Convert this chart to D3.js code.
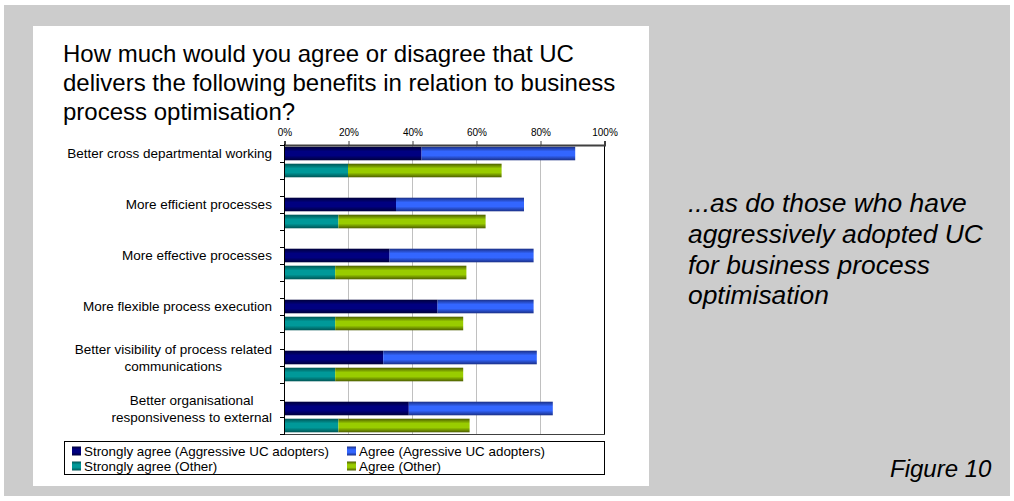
<!DOCTYPE html>
<html>
<head>
<meta charset="utf-8">
<script src="https://cdn.jsdelivr.net/npm/d3@7"></script>
<style>
  html, body { margin: 0; padding: 0; background: #ffffff; }
  svg { display: block; }
  text { font-family: "Liberation Sans", Arial, sans-serif; }
</style>
</head>
<body>
<svg id="chart" width="1014" height="501"></svg>
<script>
// Survey benefits of UC for business process optimisation
const categories = [
  ["Better cross departmental working"],
  ["More efficient processes"],
  ["More effective processes"],
  ["More flexible process execution"],
  ["Better visibility of process related", "communications"],
  ["Better organisational", "responsiveness to external"]
];
const stronglyAgreeAggressive = [43, 35, 33, 48, 31, 39];
const agreeAggressive        = [48, 40, 45, 30, 48, 45];
const stronglyAgreeOther     = [20, 17, 16, 16, 16, 17];
const agreeOther             = [48, 46, 41, 40, 40, 41];
const tickValues = [0, 20, 40, 60, 80, 100];
const seriesNames = [
  "Strongly agree (Aggressive UC adopters)",
  "Agree (Agressive UC adopters)",
  "Strongly agree (Other)",
  "Agree (Other)"
];

const titleLines = [
  "How much would you agree or disagree that UC",
  "delivers the following benefits in relation to business",
  "process optimisation?"
];
const sideLines = [
  "...as do those who have",
  "aggressively adopted UC",
  "for business process",
  "optimisation"
];

const svg = d3.select("#chart");

// backdrop and chart panel
svg.append("rect").attr("x", 4).attr("y", 5).attr("width", 1006).attr("height", 491).attr("fill", "#cccccc");
svg.append("rect").attr("x", 33).attr("y", 26).attr("width", 616).attr("height", 460).attr("fill", "#ffffff");

// gradients giving the bars their rounded shading
const palette = [
  { id: "gNavy",  edge: "#00003a", mid: "#000080" },
  { id: "gBlue",  edge: "#1a2f86", mid: "#3366ff" },
  { id: "gTeal",  edge: "#005555", mid: "#009999" },
  { id: "gGreen", edge: "#4d5e00", mid: "#99cc00" }
];
const defs = svg.append("defs");
palette.forEach(p => {
  const g = defs.append("linearGradient").attr("id", p.id)
    .attr("x1", 0).attr("y1", 0).attr("x2", 0).attr("y2", 1);
  g.append("stop").attr("offset", "0%").attr("stop-color", p.edge);
  g.append("stop").attr("offset", "35%").attr("stop-color", p.mid);
  g.append("stop").attr("offset", "65%").attr("stop-color", p.mid);
  g.append("stop").attr("offset", "100%").attr("stop-color", p.edge);
});

// title
svg.append("text").attr("x", 63).attr("y", 62)
  .attr("font-size", 24).attr("fill", "#000")
  .selectAll("tspan").data(titleLines).join("tspan")
  .attr("x", 63).attr("dy", (d, i) => i === 0 ? 0 : 29).text(d => d);

// scales
const plotLeft = 284, plotRight = 604, plotTop = 145, plotBottom = 434;
const x = d3.scaleLinear().domain([0, 100]).range([plotLeft, plotRight]);
const slots = d3.range(categories.length * 3 - 1);
const y = d3.scaleBand().domain(slots).range([plotTop, plotBottom]).paddingInner(0.2).paddingOuter(0.1);

// gridlines
svg.append("g").selectAll("line").data(tickValues.filter(v => v > 0 && v < 100)).join("line")
  .attr("x1", d => x(d) + 0.5).attr("x2", d => x(d) + 0.5).attr("y1", plotTop).attr("y2", plotBottom)
  .attr("stroke", "#c0c0c0").attr("stroke-width", 1);

// bars
const rows = [];
categories.forEach((c, i) => {
  rows.push({ slot: i * 3, parts: [
    { start: 0, value: stronglyAgreeAggressive[i], fill: "url(#gNavy)" },
    { start: stronglyAgreeAggressive[i], value: agreeAggressive[i], fill: "url(#gBlue)" }
  ]});
  rows.push({ slot: i * 3 + 1, parts: [
    { start: 0, value: stronglyAgreeOther[i], fill: "url(#gTeal)" },
    { start: stronglyAgreeOther[i], value: agreeOther[i], fill: "url(#gGreen)" }
  ]});
});
svg.append("g").selectAll("g").data(rows).join("g")
  .selectAll("rect").data(r => r.parts.map(p => ({ ...p, slot: r.slot }))).join("rect")
  .attr("x", d => x(d.start))
  .attr("y", d => y(d.slot))
  .attr("width", d => x(d.start + d.value) - x(d.start))
  .attr("height", y.bandwidth())
  .attr("fill", d => d.fill);

// plot frame: right and bottom edges
svg.append("line").attr("x1", plotRight + 0.5).attr("x2", plotRight + 0.5).attr("y1", plotTop).attr("y2", plotBottom)
  .attr("stroke", "#000").attr("stroke-width", 1);
svg.append("line").attr("x1", plotLeft).attr("x2", plotRight + 1).attr("y1", plotBottom + 0.5).attr("y2", plotBottom + 0.5)
  .attr("stroke", "#404040").attr("stroke-width", 1);

// top value axis
const xAxis = d3.axisTop(x).tickValues(tickValues).tickFormat(d => d + "%").tickSize(4).tickPadding(5);
const gx = svg.append("g").attr("transform", `translate(0.5,${plotTop})`).call(xAxis);
gx.select(".domain").attr("stroke", "#404040").attr("stroke-width", 2);
gx.selectAll(".tick line").attr("stroke", "#404040");
gx.selectAll(".tick text").attr("font-size", 10).attr("fill", "#000")
  .attr("font-family", "'Liberation Sans', Arial, sans-serif");

// left category axis: ticks at every slot boundary
const gy = svg.append("g");
gy.append("line").attr("x1", plotLeft + 0.5).attr("x2", plotLeft + 0.5).attr("y1", plotTop - 1).attr("y2", plotBottom + 1)
  .attr("stroke", "#000");
gy.selectAll("line.tk").data(d3.range(slots.length + 1)).join("line").attr("class", "tk")
  .attr("x1", plotLeft - 4).attr("x2", plotLeft)
  .attr("y1", k => Math.round(plotTop + (plotBottom - plotTop) * k / slots.length) + 0.5)
  .attr("y2", k => Math.round(plotTop + (plotBottom - plotTop) * k / slots.length) + 0.5)
  .attr("stroke", "#000");

// category labels
const lblG = svg.append("g").attr("font-size", 13.5).attr("fill", "#000");
categories.forEach((lines, i) => {
  const cy = y(i * 3) + y.bandwidth() / 2;
  const t = lblG.append("text").attr("text-anchor", "middle").attr("fill", "#000");
  lines.forEach((ln, j) => {
    t.append("tspan").attr("x", 0).attr("y", cy + 4.5 + (j - (lines.length - 1) / 2) * 17).text(ln);
  });
  const w = t.node().getBBox().width;
  t.attr("transform", `translate(${272 - w / 2},0)`);
});

// legend
const lg = svg.append("g");
lg.append("rect").attr("x", 64.5).attr("y", 441.5).attr("width", 540).attr("height", 33)
  .attr("fill", "#fff").attr("stroke", "#000");
const legendFills = ["url(#gNavy)", "url(#gBlue)", "url(#gTeal)", "url(#gGreen)"];
const legendPos = [[72, 451], [347, 451], [72, 466], [347, 466]];
seriesNames.forEach((n, i) => {
  const [lx, ly] = legendPos[i];
  lg.append("rect").attr("x", lx).attr("y", ly - 4.5).attr("width", 9).attr("height", 9)
    .attr("fill", legendFills[i]);
  lg.append("text").attr("x", lx + 12).attr("y", ly + 4.8).attr("font-size", 13.4).attr("fill", "#000").text(n);
});

// side commentary
svg.append("text").attr("font-size", 26.4).attr("font-style", "italic").attr("fill", "#000")
  .selectAll("tspan").data(sideLines).join("tspan")
  .attr("x", 688).attr("y", (d, i) => 212 + i * 30.8).text(d => d);

svg.append("text").attr("x", 890).attr("y", 477).attr("font-size", 24).attr("font-style", "italic")
  .attr("fill", "#000").text("Figure 10");
</script>
</body>
</html>
